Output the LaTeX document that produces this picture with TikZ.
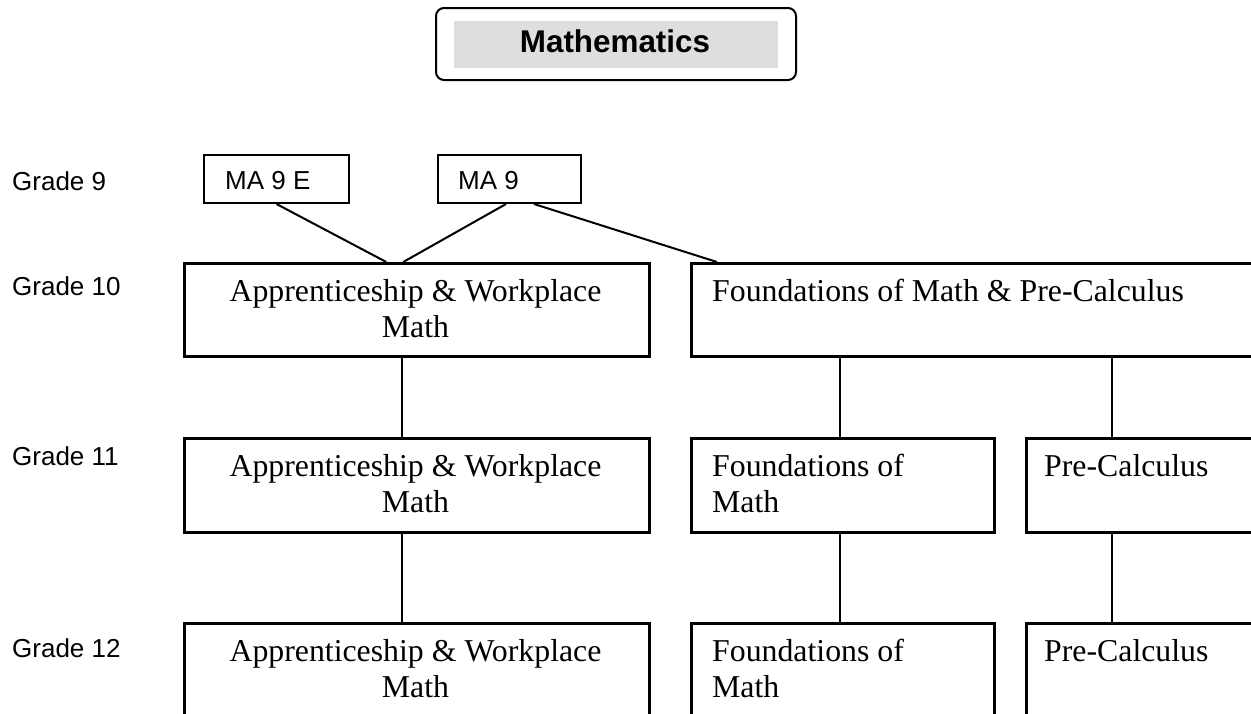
\documentclass[tikz,border=0pt]{standalone}
\usepackage{fontspec}
\setmainfont{Liberation Serif}
\newfontfamily\arialfont{Liberation Sans}
\definecolor{titlegray}{RGB}{222,222,222}
\begin{document}
\begin{tikzpicture}[x=1pt,y=-1pt,
  box/.style={draw, line width=2.5pt, rectangle, inner sep=0pt, anchor=north west},
  smallbox/.style={draw, line width=2pt, rectangle, inner sep=0pt, anchor=north west},
  conn/.style={line width=2pt},
  serif/.style={font=\fontsize{31.8}{36.5}\selectfont, inner sep=0pt},
  sans/.style={font=\arialfont\fontsize{26}{30}\selectfont, inner sep=0pt, anchor=base west},
]
\useasboundingbox (0,0) rectangle (1251,713);
\clip (0,0) rectangle (1251,713);

% title
\node[draw, line width=2pt, rounded corners=8pt, minimum width=360pt, minimum height=72pt, inner sep=0pt] (titlebox) at (616,44) {};
\node[fill=titlegray, minimum width=324pt, minimum height=47pt, inner sep=0pt] (titlefill) at (616,44.5) {};
\node[anchor=base, inner sep=0pt, font=\arialfont\bfseries\fontsize{31.4}{36}\selectfont] (title) at (615,52) {Mathematics};

% grade labels
\node[sans] (g9) at (12,190) {Grade 9};
\node[sans] (g10) at (12,295) {Grade 10};
\node[sans] (g11) at (12,465) {Grade 11};
\node[sans] (g12) at (12,657) {Grade 12};

% grade 9 boxes
\node[smallbox, minimum width=145pt, minimum height=48pt] (ma9e) at (203,154) {};
\node[sans] (ma9et) at (225,189) {MA 9 E};
\node[smallbox, minimum width=143pt, minimum height=48pt] (ma9) at (437,154) {};
\node[sans] (ma9t) at (458,189) {MA 9};

% grade 10 (base anchor of a two-line node = baseline of its last line)
\node[box, minimum width=465pt, minimum height=93pt] (a10) at (183,262) {};
\node[serif, anchor=base, align=center] (a10t) at (415.5,337.5) {Apprenticeship \& Workplace\\Math};
\node[box, minimum width=700pt, minimum height=93pt] (f10) at (690,262) {};
\node[serif, anchor=base west] (f10t) at (712,301) {Foundations of Math \& Pre-Calculus};

% grade 11
\node[box, minimum width=465pt, minimum height=94pt] (a11) at (183,437) {};
\node[serif, anchor=base, align=center] (a11t) at (415.5,512.5) {Apprenticeship \& Workplace\\Math};
\node[box, minimum width=303pt, minimum height=94pt] (f11) at (690,437) {};
\node[serif, anchor=base west, align=left] (f11t) at (712,512.5) {Foundations of\\Math};
\node[box, minimum width=400pt, minimum height=94pt] (p11) at (1025,437) {};
\node[serif, anchor=base west] (p11t) at (1044,476) {Pre-Calculus};

% grade 12
\node[box, minimum width=465pt, minimum height=150pt] (a12) at (183,622) {};
\node[serif, anchor=base, align=center] (a12t) at (415.5,697.5) {Apprenticeship \& Workplace\\Math};
\node[box, minimum width=303pt, minimum height=150pt] (f12) at (690,622) {};
\node[serif, anchor=base west, align=left] (f12t) at (712,697.5) {Foundations of\\Math};
\node[box, minimum width=400pt, minimum height=150pt] (p12) at (1025,622) {};
\node[serif, anchor=base west] (p12t) at (1044,661) {Pre-Calculus};

% connectors
\draw[conn] (ma9e.south) -- ([xshift=-30.5pt]a10.north);
\draw[conn] ([xshift=-3.5pt]ma9.south) -- ([xshift=-13.5pt]a10.north);
\draw[conn] ([xshift=24.5pt]ma9.south) -- ([xshift=27pt]f10.north west);
\draw[conn] ([xshift=219pt]a10.south west) -- ([xshift=219pt]a11.north west);
\draw[conn] ([xshift=219pt]a11.south west) -- ([xshift=219pt]a12.north west);
\draw[conn] ([xshift=150pt]f10.south west) -- ([xshift=150pt]f11.north west);
\draw[conn] ([xshift=422pt]f10.south west) -- ([xshift=87pt]p11.north west);
\draw[conn] ([xshift=150pt]f11.south west) -- ([xshift=150pt]f12.north west);
\draw[conn] ([xshift=87pt]p11.south west) -- ([xshift=87pt]p12.north west);
\end{tikzpicture}
\end{document}
